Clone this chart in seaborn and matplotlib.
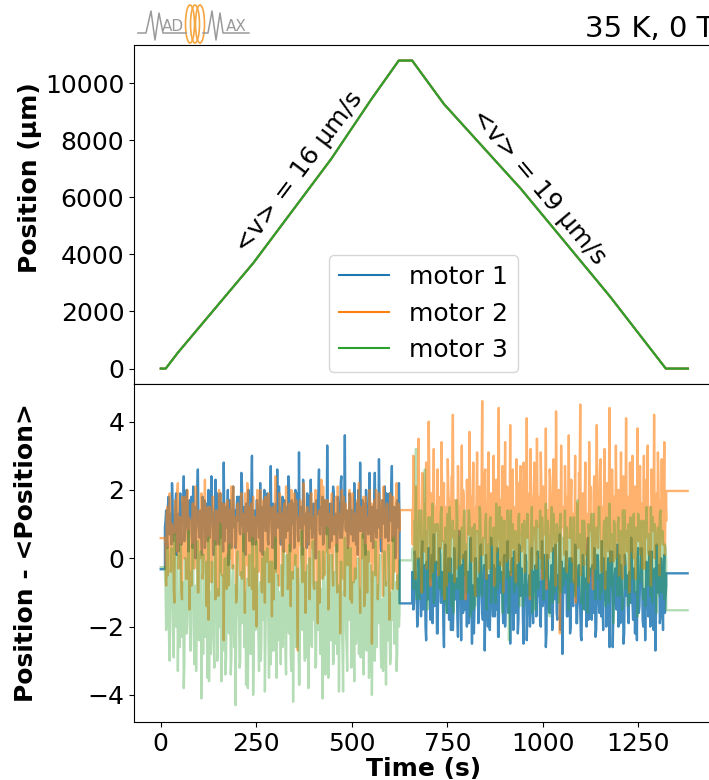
import numpy as np
import matplotlib
matplotlib.use("Agg")
import matplotlib.pyplot as plt
import seaborn as sns
from matplotlib.patches import Ellipse

# top panel: motor positions (all three motors overlap)
top_time = [0, 13, 45, 243, 446, 552, 623, 658, 741, 943, 1175, 1322, 1380]
top_position = [0, 0, 560, 3710, 7340, 9450, 10790, 10790, 9270, 6290, 2540, 0, 0]

# bottom panel: position minus mean, two noisy scans (values read in units of 0.1)
# each scan is sampled twice as often as one list: _a and _b alternate in time
seg1_start, seg1_end = 11, 625
seg2_start, seg2_end = 658, 1323
t_first, t_last = 0, 1379

m1_seg1_a = [9, 14, 3, 18, 7, 12, 22, 5, 10, 16, 1, 13, 8, 19, 4, 11, 24, 6, 15, 9,
             2, 17, 12, 7, 21, 10, 0, 14, 26, 8, 11, 5, 18, 13, 3, 16, 9, 20, 6, 12,
             15, 1, 10, 23, 7, 13, 4, 19, 11, 8, 28, 5, 14, 10, -2, 17, 12, 6, 21, 9,
             3, 15, 11, 18, 7, 25, 10, 2, 13, 16, 8, 20, 5, 12, 30, 9, 14, 4, 17, 11,
             6, 22, 10, 1, 15, 13, 8, 19, 4, 12, 27, 7, 16, 10, -3, 14, 9, 21, 6, 13,
             18, 2, 11, 15, 8, 24, 12, 5, 17, 10, 3, 20, 14, 7, 31, 9, 13, 1, 16, 11,
             8, 19, 4, 12, 23, 6, 15, 10, 0, 17, 13, 26, 7, 11, 18, 5, 14, 9, 33, 12,
             3, 16, 10, 21, 7, 13, 2, 18, 11, 6, 24, 9, 15, 36, 8, 12, 4, 19, 10, 14,
             5, 22, 11, 16, 1, 13, 28, 8, 17, 10, 4, 20, 12, 7, 25, 9, 15, 3, 18, 11,
             6, 14, 29, 10, 2, 17, 12, 21, 8, 13, 5, 19, 11, 27, 7, 15, 0, 16, 10, 22]
m1_seg1_b = [11, 6, 15, 9, 13, 4, 17, 10, 7, 19, 12, 2, 14, 8, 16, 11, 5, 13, 20, 9,
             7, 12, 18, 3, 10, 15, 8, 21, 11, 6, 14, 1, 12, 17, 9, 13, 5, 16, 10, 24,
             12, 8, 14, 4, 19, 10, 13, 6, 16, 2, 11, 15, 9, 20, 7, 12, 3, 17, 10, 14,
             5, 18, 11, 8, 13, 22, 9, 15, 1, 12, 16, 7, 10, 19, 4, 14, 11, 6, 17, 13,
             9, 2, 15, 12, 20, 8, 11, 5, 14, 18, 10, 3, 13, 7, 16, 26, 9, 12, 4, 15,
             11, 17, 6, 13, 9, 21, 2, 14, 10, 16, 8, 12, 19, 5, 11, 15, 7, 23, 10, 13,
             3, 14, 18, 9, 12, 6, 16, 11, 0, 13, 20, 8, 15, 10, 4, 17, 12, 7, 14, 9,
             16, 5, 11, 19, 8, 13, 2, 15, 10, 22, 6, 12, 17, 9, 14, 3, 11, 18, 7, 13,
             10, 15, 4, 12, 20, 8, 14, 11, 6, 16, 1, 13, 9, 18, 12, 5, 15, 10, 25, 7,
             14, 9, 17, 3, 12, 16, 10, 6, 19, 11, 8, 13, 21, 5, 15, 12, 2, 17, 9, 11]
m2_seg1_a = [6, -8, 15, 1, 19, -4, 10, 3, -13, 17, 7, 22, -2, 12, -9, 18, 4, 13, -6, 20,
             8, -15, 11, 2, 16, -3, 21, 9, -10, 14, 0, 19, -6, 6, 23, -1, 12, -18, 15, 5,
             -7, 18, 10, -12, 13, 3, 20, -4, 8, 16, -24, 11, 1, 17, -8, 14, 7, -2, 21, 4,
             12, -11, 16, 6, -5, 19, 2, 13, -16, 10, 22, -3, 15, 8, -9, 18, 0, 11, -20, 14,
             5, 20, -6, 9, 17, -13, 12, 3, 19, -1, 7, -17, 15, 10, 24, -4, 13, -8, 18, 6,
             -11, 14, 2, 21, 8, -5, 16, -14, 11, 4, 19, -2, 13, -27, 9, 17, 1, -7, 22, 10,
             -3, 15, 7, -12, 18, 5, 12, -9, 20, 3, -19, 14, 9, 23, -6, 11, -1, 17, 6, -15,
             13, 2, 19, -8, 10, 16, -4, 21, 7, -22, 12, 0, 18, -11, 14, 8, -2, 20, 4, -13,
             16, 9, -6, 13, 1, 22, -16, 11, 5, 18, -3, 15, -10, 8, 20, 2, -25, 12, 17, -5,
             10, -12, 19, 6, 14, -1, 21, 3, -8, 16, 9, -18, 13, 0, 18, -4, 11, 22, -9, 15]
m2_seg1_b = [4, 13, -5, 10, 17, -1, 8, -9, 15, 2, 19, -3, 11, 6, -12, 14, 0, 18, 7, -6,
             12, 3, -8, 16, 9, -2, 20, 5, -10, 13, 1, 17, -4, 10, 6, -14, 15, 2, 11, -7,
             18, 8, -1, 14, 4, -11, 12, 19, -5, 9, 3, 16, -9, 7, 13, 0, 21, -3, 10, 5,
             -13, 15, 8, 1, 17, -6, 11, 4, 19, -2, 13, -8, 6, 16, 2, -15, 12, 9, 20, -4,
             7, 14, -10, 11, 3, 18, -1, 9, -7, 15, 5, 12, -12, 17, 0, 10, -5, 19, 6, 13,
             -3, 16, 2, 11, -9, 14, 7, 20, -6, 9, 1, 17, -11, 12, 4, 15, -2, 8, 18, -16,
             10, 5, 13, -4, 19, 3, -8, 16, 8, -1, 12, -13, 14, 6, 21, -5, 11, 2, 17, -9,
             9, 15, -3, 12, 4, 18, -10, 7, 13, 1, 20, -6, 10, 16, -2, 14, 5, -12, 11, 19,
             -7, 13, 3, 17, 8, -4, 15, 0, 11, -14, 18, 6, 12, -1, 9, 16, -8, 14, 2, 20,
             5, -5, 12, 9, 17, -11, 13, 1, 15, 7, -3, 19, 10, -9, 14, 4, 11, -6, 16, 8]
m3_seg1_a = [-5, -21, 3, -12, -30, 1, -9, -25, 7, -16, -2, -33, -10, 4, -23, -7, -38, 0, -14, -19,
             8, -4, -27, -11, 2, -31, -8, -17, 5, -24, -3, -41, -13, 1, -22, -6, -35, 6, -15, -28,
             -1, -19, -32, 3, -9, -24, -12, 10, -36, -5, -17, 0, -29, -7, -20, 4, -34, -14, -2, -26,
             -43, -8, 2, -18, -30, -4, -11, 7, -23, -37, -6, -16, 1, -28, -10, -40, -3, -21, 5, -13,
             -33, -7, -25, 0, -18, -39, -9, 3, -22, -15, -31, -1, -27, -12, 6, -35, -5, -20, -14, -2,
             -26, 2, -11, -34, -6, -19, 4, -29, -8, -42, -16, 1, -24, -3, -37, -10, 8, -21, -13, -30,
             -4, -17, -38, 0, -9, -26, 5, -14, -32, -7, -20, 2, -28, -11, -41, -2, -23, -15, 9, -35,
             -6, -19, 1, -31, -12, -25, 4, -8, -39, -16, -1, -27, -10, 6, -22, -33, -5, -18, 3, -29,
             -13, -36, -3, -21, 0, -28, -9, -17, 7, -34, -6, -24, -14, 2, -30, -11, -40, -4, -19, 5,
             -26, -8, -15, 1, -32, -12, -22, -2, -37, -7, 4, -18, -29, -10, 0, -25, -16, -33, -5, -20]
m3_seg1_b = [-8, -18, -2, -24, -11, 3, -15, -29, -6, -20, 1, -13, -26, -4, -17, -9, -31, 0, -22, -12,
             -5, -27, -10, 4, -19, -14, -33, -3, -21, -8, 2, -16, -28, -7, -23, -1, -13, -36, -10, -18,
             -4, -25, 5, -15, -30, -9, -20, -2, -12, -27, -6, -34, -14, 1, -22, -11, -29, -5, -17, -8,
             -24, 0, -13, -32, -7, -19, 3, -26, -10, -16, -38, -4, -21, -12, 6, -28, -9, -15, -2, -23,
             -11, -30, -5, -18, 2, -25, -14, -8, -35, -1, -20, -12, -27, 4, -16, -7, -24, -10, -31, -3,
             -19, -6, -28, 1, -13, -22, -9, -33, -4, -17, 0, -26, -11, -20, -37, -5, -14, 3, -23, -8,
             -29, -2, -15, -10, -25, 5, -18, -7, -31, -12, -21, -3, -27, -9, 2, -16, -34, -6, -19, -13,
             1, -24, -10, -30, -4, -17, -28, -8, -14, -1, -22, -39, -11, -5, -26, 3, -18, -12, -32, -7,
             -20, -3, -25, -9, 0, -16, -29, -6, -21, -13, 4, -27, -10, -35, -2, -15, -23, -8, -30, 1,
             -12, -19, -5, -26, -14, -33, 2, -17, -9, -24, -4, -31, -11, -18, 6, -22, -7, -28, -13, -16]

m1_seg2_a = [-4, -15, 2, -9, -20, 0, -6, -17, 5, -12, -2, -24, -8, 3, -14, -5, -19, 7, -10, -1,
             -22, -7, 1, -13, -4, -26, 4, -11, -3, -18, 0, -9, -21, 3, -12, -6, -23, 8, -10, -2,
             -16, -7, 2, -20, -4, -12, 6, -25, -8, -14, 0, -10, -19, -3, 4, -15, -9, -27, 1, -13,
             -5, -21, 6, -11, -2, -17, -7, 3, -23, -10, -4, -14, 0, -20, -8, 5, -12, -25, -1, -9,
             2, -16, -6, -22, 4, -11, -3, -18, -8, 1, -24, -10, -5, -15, 3, -19, -9, -2, -13, 0,
             -7, -20, 5, -12, -4, -26, 1, -9, -16, -6, -21, 3, -11, -1, -18, -8, 7, -14, -28, -3,
             -10, 2, -17, -5, -22, 0, -13, -7, 4, -19, -9, -2, -15, -24, 1, -11, -6, -20, 6, -12,
             -3, -18, -8, 3, -23, -10, -1, -16, -6, 5, -21, -12, -4, -14, 0, -26, -9, 2, -17, -5,
             -13, 4, -20, -7, -2, -15, -25, 1, -11, -5, -19, -8, 6, -13, -3, -22, -10, 0, -16, -6,
             3, -18, -9, -24, -1, -12, -5, -20, 2, -14, -7, -27, 4, -10, -2, -17, -8, -21, 1, -11]
m1_seg2_b = [-6, -13, 0, -9, -17, -3, -11, 2, -15, -7, -20, -1, -12, -5, -18, 1, -10, -14, -4, -22,
             -8, 3, -13, -6, -19, -2, -11, -16, 0, -9, -21, -5, -14, 2, -8, -17, -3, -12, -24, -7,
             1, -15, -10, -4, -19, -1, -13, -8, -22, 0, -11, -6, -16, 3, -9, -18, -2, -14, -7, -20,
             -5, -12, 2, -17, -9, -3, -15, -23, -1, -10, -6, -19, 1, -13, -8, -16, -4, -11, 0, -21,
             -7, -14, -2, -18, 3, -10, -5, -25, -12, -1, -16, -8, -20, 0, -13, -4, -9, -17, 2, -11,
             -19, -6, -14, 1, -10, -22, -3, -15, -8, -2, -18, -12, 4, -16, -5, -9, -21, -1, -13, -7,
             -3, -17, -11, 0, -20, -6, -14, -9, 2, -19, -4, -12, -23, -7, -1, -15, -10, 3, -18, -5,
             -12, -2, -16, -8, -21, 1, -11, -5, -17, -13, 0, -9, -20, -4, -14, 2, -7, -26, -10, -3,
             -15, -8, 1, -19, -6, -12, -22, -2, -10, -16, -4, -13, 0, -18, -7, -11, -24, 3, -14, -6,
             -1, -20, -9, -13, -5, -17, 2, -11, -8, -21, -3, -15, -6, -10, -19, 0, -12, -4, -16, -8]
m2_seg2_a = [12, 30, -2, 21, 6, 35, 10, -6, 25, 16, 2, 28, 11, 40, 4, 19, -4, 32, 15, 8,
             26, -1, 18, 34, 5, 22, 12, -8, 29, 16, 3, 24, 42, 9, 17, -3, 27, 14, 0, 33,
             20, 7, -12, 23, 11, 37, 4, 18, 28, -5, 14, 31, 8, 21, 1, 46, 13, 25, -2, 16,
             31, 6, 19, 10, 30, -7, 23, 14, 44, 3, 17, 27, 9, 34, -1, 20, 12, 39, 5, 26,
             15, -4, 29, 8, 22, 27, 2, 14, 25, 10, 41, 6, 19, 32, -3, 16, 28, 4, 35, 18,
             11, 31, -6, 21, 7, 38, 13, 0, 26, 17, 3, 29, 12, 43, 5, 20, -22, 33, 15, 9,
             27, 1, 18, 36, 6, 23, 11, -7, 30, 16, 4, 25, 45, 8, 19, -2, 28, 13, 0, 34,
             21, 8, -9, 24, 12, 39, 3, 17, 29, -4, 15, 32, 7, 22, 2, 44, 14, 26, -1, 18,
             33, 5, 20, 11, 31, -6, 24, 13, 41, 2, 18, 28, 9, 30, 0, 21, 12, 38, 6, 27,
             16, -3, 30, 9, 23, 33, 1, 15, 26, 10, 42, 7, 19, 31, -5, 17, 29, 4, 34, 19]
m2_seg2_b = [4, 15, -6, 11, 0, 20, 7, -10, 13, 2, 18, -3, 9, 23, -8, 5, 14, -1, 10, 17,
             -5, 12, 3, 21, 8, -12, 15, 1, 19, -4, 9, 24, 6, -7, 13, 2, 16, -2, 11, 0,
             18, 5, -9, 14, 7, 22, -1, 10, 3, -11, 16, 8, -4, 12, 19, 1, 6, 26, -6, 11,
             -3, 17, 4, 13, -8, 9, 2, 20, 6, -2, 15, -10, 11, 5, 21, 0, 8, -5, 14, 3,
             12, -7, 18, -1, 7, 13, 3, 28, -4, 10, 6, 16, -12, 12, 1, 19, 8, -3, 15, 9,
             0, 21, -6, 11, 7, -9, 14, 4, 23, 2, 10, 17, -8, 13, 5, 20, -2, 9, 15, 1,
             18, -4, 10, 6, 16, -1, 13, 7, -13, 14, 3, 22, -5, 9, 4, 17, 1, 12, -7, 15,
             8, 2, 19, -3, 12, 5, 11, 27, -2, 7, 14, -9, 10, 4, 20, -1, 9, 16, 6, 0,
             13, 17, -5, 8, 3, 21, -2, 12, 6, 10, -10, 15, 2, 18, 7, -6, 11, 5, 24, 1,
             9, 14, -3, 6, 19, 2, 12, -8, 16, 8, 0, 13, 4, 21, -4, 10, 7, 17, 1, 11]
m3_seg2_a = [2, -9, 11, 32, -4, 7, -12, 14, 0, -7, 26, 5, -15, 12, 3, -5, 16, -13, 8, -2,
             10, -8, 4, 15, -11, 1, 9, -16, 13, -3, 6, -14, 11, 2, -9, 17, -1, 5, -12, 9,
             -4, 14, 0, -10, 7, 12, -17, 3, -15, 10, -2, 8, -8, 15, 1, -11, 6, -3, 13, -7,
             4, 11, -13, 2, 9, -5, 16, -9, 3, -1, 12, -16, 7, 0, -6, 14, -24, 5, -4, 10,
             -10, 8, 2, -8, 13, -2, 6, -14, 11, -5, 4, 9, -11, 1, 15, -7, 3, -15, 10, -9,
             7, -3, 12, -12, 0, 16, -6, 5, -17, 9, -1, 13, -10, 3, 8, -13, 11, -4, 6, -8,
             14, -2, 1, -15, 10, -7, 5, 12, -11, 0, 17, -5, 7, -13, 3, 11, -9, 2, -16, 8,
             -4, 13, -1, 6, -12, 9, -6, 15, 0, -10, 4, 11, -14, 2, -3, 16, -8, 7, -19, 10,
             1, -11, 12, -5, 8, -15, 3, 14, -7, 0, 10, -13, 5, -2, 13, -9, 6, -17, 9, -4,
             11, -8, 2, -14, 15, -1, 7, -11, 4, 12, -6, 0, -16, 9, -3, 14, -10, 5, -12, 3]
m3_seg2_b = [3, -7, 9, -12, 1, 14, -4, 6, -10, 11, -2, 8, -14, 4, 12, -6, 0, -11, 10, -3,
             7, -9, 13, -1, 5, -13, 2, 10, -7, 15, -4, 3, -16, 8, -2, 12, -9, 6, 0, -12,
             11, -5, 4, -10, 14, 1, -8, 9, -3, -14, 7, 2, -11, 13, -6, 5, -1, 10, -15, 3,
             -4, 12, -8, 6, 0, -13, 9, -2, 15, -7, 4, -10, 11, 1, -5, 8, -12, 14, -3, 2,
             -9, 7, -1, 12, -14, 5, 10, -6, 3, -11, 13, 0, -8, 6, -16, 9, -4, 11, 2, -7,
             14, -2, 8, -12, 4, -5, 11, -9, 1, 15, -13, 6, -3, 10, -7, 2, 13, -10, 5, -1,
             -6, 9, -14, 3, 12, -4, 7, -11, 0, 14, -8, 4, -2, 11, -15, 6, 1, -9, 10, -5,
             8, -3, 13, -10, 2, -6, 15, -12, 5, 0, 9, -7, 12, -1, -13, 7, 3, -8, 11, -4,
             -2, 10, -11, 6, -5, 14, 1, -9, 8, -14, 4, 12, -6, 2, -10, 9, -3, 13, -7, 5,
             0, -12, 11, -4, 7, -8, 3, 15, -13, 1, 10, -5, 6, -11, 13, -2, 8, -9, 4, -1]

# resting values before, between and after the scans
pre_level = [-0.32, 0.59, -0.26]
mid_level = [-1.32, 1.41, -0.06]
post_level = [-0.44, 1.97, -1.52]

motors = ["motor 1", "motor 2", "motor 3"]
colors = ["#1f77b4", "#ff7f0e", "#2ca02c"]
alphas = [0.85, 0.6, 0.35]


def merge(a, b):
    # a and b are alternate samples of the same scan
    return np.ravel(np.column_stack([a, b])) / 10


plt.rcParams["font.size"] = 18

fig = plt.figure(figsize=(7.09, 7.80), dpi=100)
ax_top = fig.add_axes([0.189, 0.5077, 0.818, 0.4346])
ax_bot = fig.add_axes([0.189, 0.0744, 0.818, 0.4333], sharex=ax_top)

for name, c in zip(motors, colors):
    sns.lineplot(x=top_time, y=top_position, ax=ax_top, color=c, label=name,
                 estimator=None, sort=False, linewidth=1.5)

ax_top.set_ylim(-540, 11334)
ax_top.set_yticks([0, 2000, 4000, 6000, 8000, 10000])
ax_top.set_ylabel("Position (µm)", fontweight="bold")
ax_top.yaxis.set_label_coords(-0.158, 0.61)
ax_top.tick_params(axis="x", bottom=False, labelbottom=False)
ax_top.set_title("35 K, 0 T", loc="right", fontsize=21)
ax_top.text(362, 6880, "<v> = 16 µm/s", rotation=53, ha="center", va="center", fontsize=18)
ax_top.text(989, 6360, "<v> = 19 µm/s", rotation=-50, ha="center", va="center", fontsize=18)
ax_top.legend(loc="lower center", bbox_to_anchor=(0.598, 0.523), bbox_transform=fig.transFigure,
              borderaxespad=0, fontsize=18)

segs1 = [merge(m1_seg1_a, m1_seg1_b), merge(m2_seg1_a, m2_seg1_b), merge(m3_seg1_a, m3_seg1_b)]
segs2 = [merge(m1_seg2_a, m1_seg2_b), merge(m2_seg2_a, m2_seg2_b), merge(m3_seg2_a, m3_seg2_b)]
for i in range(3):
    v1, v2 = segs1[i], segs2[i]
    t = np.concatenate([[t_first, seg1_start], np.linspace(seg1_start, seg1_end, len(v1)),
                        [seg1_end, seg2_start], np.linspace(seg2_start, seg2_end, len(v2)),
                        [seg2_end, t_last]])
    y = np.concatenate([[pre_level[i], pre_level[i]], v1, [mid_level[i], mid_level[i]],
                        v2, [post_level[i], post_level[i]]])
    sns.lineplot(x=t, y=y, ax=ax_bot, color=colors[i], alpha=alphas[i],
                 estimator=None, sort=False, linewidth=1.7)

ax_bot.set_ylim(-4.79, 5.10)
ax_bot.set_yticks([-4, -2, 0, 2, 4])
ax_bot.set_xlim(-70, 1448)
ax_bot.set_xticks([0, 250, 500, 750, 1000, 1250])
ax_bot.set_xlabel("Time (s)", fontweight="bold", labelpad=1)
ax_bot.set_ylabel("Position - <Position>", fontweight="bold")
ax_bot.yaxis.set_label_coords(-0.166, 0.5)

# MADMAX logo drawn in pixel coordinates
ov = fig.add_axes([0, 0, 1, 1], zorder=5)
ov.set_xlim(0, 709)
ov.set_ylim(780, 0)
ov.axis("off")
grey = "#9a9a9a"
ov.plot([138, 146, 151, 155, 159, 163, 186], [33, 33, 11, 40, 13, 33, 33], color=grey, lw=1.1)
ov.plot([203, 208, 212, 216, 220, 223, 249], [33, 33, 11, 40, 13, 33, 33], color=grey, lw=1.1)
ov.text(173, 31, "AD", color=grey, fontsize=11, ha="center", va="baseline")
ov.text(236, 31, "AX", color=grey, fontsize=11, ha="center", va="baseline")
for cx in [190, 195, 200]:
    ov.add_patch(Ellipse((cx, 24), 9, 38, fill=False, ec="#f5a640", lw=1.2))

fig.savefig("out.png", dpi=100)
